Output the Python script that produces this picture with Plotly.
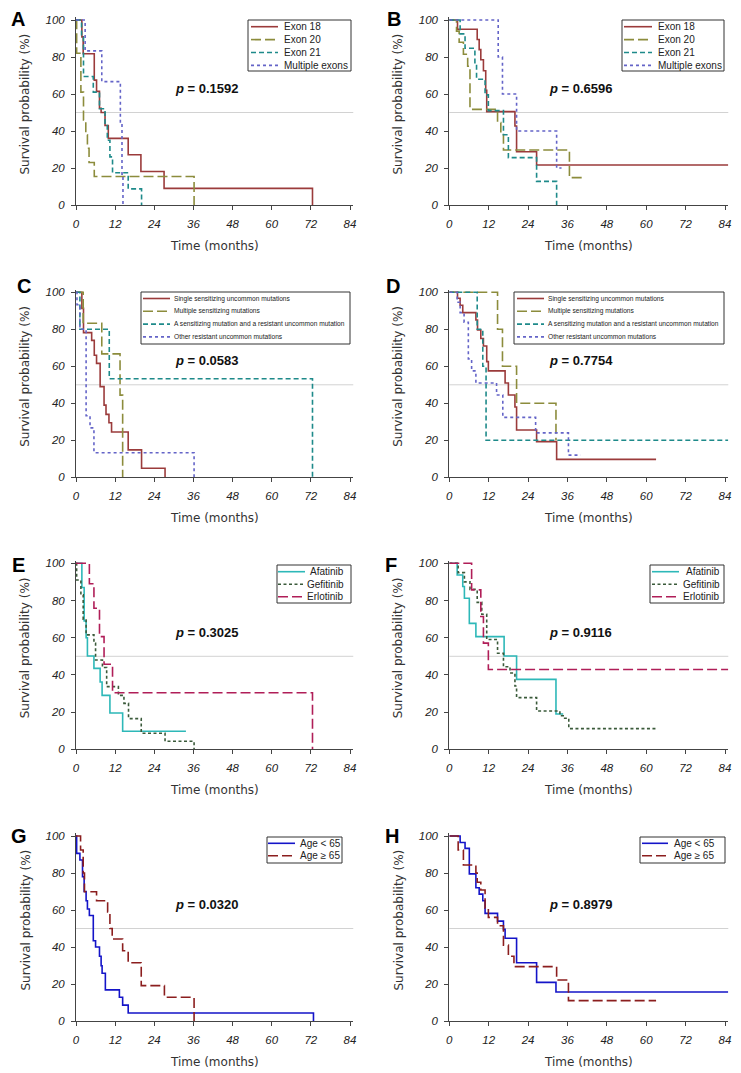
import plotly.graph_objects as go

# the page body has an 8px margin, so the figure is drawn 8px in from the corner
OFF = 8
W, H = 741 - OFF, 1073 - OFF

# ---- data (time in months, survival in %) ----
# A
a_ex18_t = [0, 1.8, 2.2, 5.6, 6.3, 7.2, 7.7, 8.9, 9.9, 16.0, 19.9, 27.0, 72.5]
a_ex18_s = [100, 90.9, 81.8, 67.5, 61.4, 52.3, 50.0, 43.0, 36.0, 27.2, 18.1, 9.0, 0]
a_ex20_t = [0, 0.2, 1.5, 2.3, 3.0, 3.5, 4.0, 5.6, 36.2]
a_ex20_s = [100, 82.0, 61.0, 46.0, 38.0, 30.7, 23.0, 15.4, 0]
a_ex21_t = [0, 1.7, 2.3, 5.3, 7.2, 8.9, 9.6, 10.4, 11.2, 16.0, 20.1]
a_ex21_s = [100, 92.0, 69.5, 61.0, 52.0, 43.5, 35.0, 26.0, 17.4, 8.7, 0]
a_multi_t = [0, 2.8, 7.9, 13.6, 14.1, 14.4]
a_multi_s = [100, 83.3, 66.7, 44.4, 16.7, 0]
# B
b_ex18_t = [0, 2.5, 8.5, 9.1, 9.6, 10.4, 11.1, 11.4, 20.0, 20.5, 26.6, 85]
b_ex18_s = [100, 95.0, 89.5, 84.0, 78.5, 72.6, 62.0, 50.5, 42.7, 28.8, 21.6, 21.6]
b_ex20_t = [0, 2.2, 3.0, 4.3, 5.6, 6.3, 14.7, 15.7, 16.5, 36.6, 40.8]
b_ex20_s = [100, 94.0, 88.0, 81.5, 75.0, 51.7, 44.5, 38.0, 29.7, 14.8, 14.8]
b_ex21_t = [0, 3.3, 4.8, 7.8, 8.3, 10.9, 11.9, 16.5, 18.0, 26.6, 32.7]
b_ex21_s = [100, 92.5, 84.7, 76.0, 68.0, 59.5, 51.0, 38.0, 25.6, 12.8, 0]
b_multi_t = [0, 14.9, 16.2, 20.5, 32.7, 34.2]
b_multi_s = [100, 80, 60, 40, 20, 20]
# C
c_single_t = [0, 1.8, 2.3, 4.8, 5.6, 6.3, 7.4, 8.6, 9.2, 10.1, 10.9, 16.0, 20.1, 27.3]
c_single_s = [100, 91.3, 78.2, 74.0, 66.0, 61.6, 49.0, 39.0, 34.0, 29.5, 24.5, 14.8, 4.9, 0]
c_multi_t = [0, 2.2, 7.9, 13.5, 14.3]
c_multi_s = [100, 83.3, 66.7, 44.4, 0]
c_sensres_t = [0, 1.2, 10.2, 72.5]
c_sensres_s = [100, 80, 53.3, 0]
c_other_t = [0, 0.3, 1.2, 3.1, 4.3, 5.5, 36.2]
c_other_s = [100, 93.3, 80.0, 33.3, 26.7, 13.3, 0]
# D
d_single_t = [0, 2.5, 3.3, 4.1, 8.1, 8.6, 9.6, 10.4, 11.4, 11.9, 17.0, 18.0, 20.0, 20.5, 26.6, 32.7, 63.0]
d_single_s = [100, 96.8, 93.0, 89.0, 85.0, 79.6, 75.0, 71.0, 62.5, 57.5, 51.0, 44.5, 38.0, 25.6, 19.3, 9.7, 9.7]
d_multi_t = [0, 14.7, 16.2, 20.5, 32.5]
d_multi_s = [100, 80, 60, 40, 20]
d_sensres_t = [0, 8.5, 10.2, 11.2, 85]
d_sensres_s = [100, 80, 60, 20, 20]
d_other_t = [0, 2.4, 3.3, 4.5, 5.8, 6.8, 8.1, 14.4, 16.3, 26.3, 36.3, 40.0]
d_other_s = [100, 94.6, 89.0, 83.8, 64.0, 57.5, 51.0, 44.5, 32.4, 24.0, 12.0, 12.0]
# E
e_afa_t = [0, 1.8, 2.5, 3.1, 3.5, 5.5, 7.4, 8.0, 10.4, 14.3, 33.7]
e_afa_s = [100, 87.0, 69.0, 60.0, 50.2, 43.5, 36.2, 29.0, 19.5, 9.7, 9.7]
e_gef_t = [0, 0.2, 1.5, 2.2, 3.1, 5.5, 6.0, 8.1, 9.4, 13.0, 14.7, 16.1, 20.0, 27.3, 36.2]
e_gef_s = [100, 91.0, 83.0, 70.0, 61.5, 57.0, 48.0, 44.0, 33.7, 29.0, 24.7, 16.5, 8.6, 4.3, 0]
e_erl_t = [0, 4.1, 5.5, 7.2, 8.6, 11.2, 72.5]
e_erl_s = [100, 89.0, 75.8, 60.6, 45.7, 30.4, 0]
# F
f_afa_t = [0, 2.4, 4.1, 4.6, 6.1, 8.1, 16.7, 20.5, 32.5, 34.7]
f_afa_s = [100, 93.7, 87.5, 81.2, 67.7, 60.6, 50.2, 37.6, 19.0, 19.0]
f_gef_t = [0, 2.7, 4.6, 6.3, 8.5, 9.9, 11.4, 14.7, 16.5, 18.5, 20.0, 20.5, 26.6, 33.7, 34.7, 36.4, 63.0]
f_gef_s = [100, 95.0, 90.0, 86.0, 79.0, 72.6, 59.0, 51.6, 44.4, 41.0, 34.0, 27.8, 20.6, 18.0, 16.7, 11.1, 11.1]
f_erl_t = [0, 6.8, 9.6, 10.4, 11.9, 85]
f_erl_s = [100, 85.7, 71.4, 57.1, 42.9, 42.9]
# G
g_young_t = [0, 0.2, 1.2, 2.0, 2.5, 3.1, 3.5, 4.1, 5.3, 6.0, 7.2, 7.7, 8.0, 9.0, 13.3, 14.3, 16.0, 72.8]
g_young_s = [100, 90.6, 87.0, 78.0, 70.0, 65.0, 60.5, 57.0, 43.4, 40.0, 35.0, 29.9, 25.8, 16.8, 12.8, 8.6, 4.3, 0]
g_old_t = [0, 1.4, 2.2, 2.6, 6.3, 9.7, 10.4, 11.1, 14.3, 16.0, 20.0, 27.1, 36.2]
g_old_s = [100, 92.4, 80.0, 69.9, 65.0, 59.0, 50.0, 44.3, 38.0, 31.5, 19.1, 12.8, 0]
# H
h_young_t = [0, 3.3, 4.8, 6.1, 8.1, 9.1, 10.2, 10.9, 14.7, 16.5, 17.0, 20.5, 26.6, 32.5, 85]
h_young_s = [100, 96.5, 93.3, 79.5, 72.0, 68.6, 65.0, 58.2, 54.0, 49.5, 44.7, 31.5, 20.9, 15.7, 15.7]
h_old_t = [0, 2.7, 4.3, 8.1, 8.5, 9.6, 10.9, 11.9, 14.7, 16.5, 18.0, 19.7, 32.7, 36.3, 63.0]
h_old_s = [100, 92.4, 84.3, 80.0, 75.0, 70.8, 61.0, 56.0, 51.5, 41.0, 35.0, 29.4, 22.2, 11.0, 11.0]

p_values = ["0.1592", "0.6596", "0.0583", "0.7754", "0.3025", "0.9116", "0.0320", "0.8979"]
letters = ["A", "B", "C", "D", "E", "F", "G", "H"]
x_ticks = [0, 12, 24, 36, 48, 60, 72, 84]
y_ticks = [0, 20, 40, 60, 80, 100]

exon_names = ["Exon 18", "Exon 20", "Exon 21", "Multiple exons"]
mut_names = ["Single sensitizing uncommon mutations", "Multiple sensitizing mutations",
             "A sensitizing mutation and a resistant uncommon mutation",
             "Other resistant uncommon mutations"]
drug_names = ["Afatinib", "Gefitinib", "Erlotinib"]
age_names = ["Age < 65", "Age \u2265 65"]

# styles
RED, OLIVE, TEAL, PURPLE = "#9B3B3B", "#8C8C3C", "#1E8A8A", "#6464C8"
AFA, GEF, ERL = "#2DB8B8", "#3A5A3A", "#B01E58"
YOUNG, OLD = "#1414C8", "#8B1E1E"
SOLID, LONG, MED, SHORT = "solid", "10px,4px", "5px,3px", "3px,3px"

exon_style = [(RED, SOLID), (OLIVE, LONG), (TEAL, MED), (PURPLE, SHORT)]
drug_style = [(AFA, SOLID), (GEF, "3px,2.5px"), (ERL, LONG)]
age_style = [(YOUNG, SOLID), (OLD, LONG)]

panels = [
    dict(curves=[(a_ex18_t, a_ex18_s), (a_ex20_t, a_ex20_s), (a_ex21_t, a_ex21_s), (a_multi_t, a_multi_s)],
         names=exon_names, style=exon_style),
    dict(curves=[(b_ex18_t, b_ex18_s), (b_ex20_t, b_ex20_s), (b_ex21_t, b_ex21_s), (b_multi_t, b_multi_s)],
         names=exon_names, style=exon_style),
    dict(curves=[(c_single_t, c_single_s), (c_multi_t, c_multi_s), (c_sensres_t, c_sensres_s), (c_other_t, c_other_s)],
         names=mut_names, style=exon_style),
    dict(curves=[(d_single_t, d_single_s), (d_multi_t, d_multi_s), (d_sensres_t, d_sensres_s), (d_other_t, d_other_s)],
         names=mut_names, style=exon_style),
    dict(curves=[(e_afa_t, e_afa_s), (e_gef_t, e_gef_s), (e_erl_t, e_erl_s)],
         names=drug_names, style=drug_style),
    dict(curves=[(f_afa_t, f_afa_s), (f_gef_t, f_gef_s), (f_erl_t, f_erl_s)],
         names=drug_names, style=drug_style),
    dict(curves=[(g_young_t, g_young_s), (g_old_t, g_old_s)], names=age_names, style=age_style),
    dict(curves=[(h_young_t, h_young_s), (h_old_t, h_old_s)], names=age_names, style=age_style),
]

# pixel geometry (screen px) of the plot areas: (x at 0, x at 84) per column, (y at 100, y at 0) per row
cols_px = [(76, 350), (449.3, 725)]
rows_px = [(20, 205), (292.3, 477.3), (563.3, 749.3), (836, 1021)]
XMAX, YMAX = 85, 101.5

# legend boxes (px): box, sample x-range, text x, first row y, row step, align
legend_geo = [
    ((248, 20, 351, 71), (251, 278), 282, 26.7, 12.9, "left"),
    ((622, 20, 724, 71), (624, 652), 656, 26.7, 12.9, "left"),
    ((141, 292, 350, 344), (143, 170), 172, 298.5, 12.8, "left"),
    ((514, 292, 724, 344), (517, 544), 546, 298.5, 12.8, "left"),
    ((277, 565, 351, 603), (278, 305), 346, 571.7, 12.5, "right"),
    ((650, 565, 724, 603), (652, 679), 722, 571.7, 12.5, "right"),
    ((267, 837, 342, 863), (268, 295), 298, 843.3, 12.4, "left"),
    ((640, 837, 725, 863), (642, 668), 672, 843.3, 12.4, "left"),
]
letter_pos = [(18, 19), (394, 19), (24, 286), (393, 286), (18, 565), (391, 565), (19, 836), (392, 836)]


def fx(x):
    return (x - OFF) / W


def fy(y):
    return 1 - (y - OFF) / H


fig = go.Figure()
shapes, annotations = [], []
tick_font = dict(family="Arial, Liberation Sans", size=11.5, color="#222", style="italic")
title_font = dict(family="DejaVu Sans, Verdana", size=12, color="#333")

for i, p in enumerate(panels):
    r, c = divmod(i, 2)
    x0, x84 = cols_px[c]
    y100, y0 = rows_px[r]
    xend = x0 + XMAX * (x84 - x0) / 84
    ytop = y0 - YMAX * (y0 - y100) / 100
    sfx = "" if i == 0 else str(i + 1)

    fig.update_layout({
        "xaxis" + sfx: dict(domain=[fx(x0), fx(xend)], range=[0, XMAX], anchor="y" + sfx,
                            tickvals=x_ticks, showline=True, linecolor="#444", linewidth=1,
                            ticks="outside", ticklen=4, tickcolor="#444", tickfont=tick_font,
                            ticklabelstandoff=4, showgrid=False, zeroline=False, fixedrange=True),
        "yaxis" + sfx: dict(domain=[fy(y0), fy(ytop)], range=[0, YMAX], anchor="x" + sfx,
                            tickvals=y_ticks, showline=True, linecolor="#444", linewidth=1,
                            ticks="outside", ticklen=4, tickcolor="#444", tickfont=tick_font,
                            ticklabelstandoff=4, showgrid=False, zeroline=False, fixedrange=True),
    })

    for (t, s), name, (col, dash) in zip(p["curves"], p["names"], p["style"]):
        fig.add_trace(go.Scatter(x=t, y=s, mode="lines", name=name, showlegend=False,
                                 line=dict(color=col, dash=dash, width=1.6, shape="hv"),
                                 xaxis="x" + sfx, yaxis="y" + sfx))

    # median reference line
    shapes.append(dict(type="line", xref="x" + sfx + " domain", x0=0, x1=1, yref="y" + sfx,
                       y0=50, y1=50, line=dict(color="#D2D2D2", width=1), layer="below"))

    # p value
    annotations.append(dict(x=29.7, y=63, xref="x" + sfx, yref="y" + sfx, xanchor="left",
                            yanchor="middle", showarrow=False,
                            text="<b><i>p</i> = " + p_values[i] + "</b>",
                            font=dict(family="Arial, Liberation Sans", size=13, color="#111")))

    # panel letter
    lx, ly = letter_pos[i]
    annotations.append(dict(x=fx(lx), y=fy(ly), xref="paper", yref="paper", showarrow=False,
                            xanchor="center", yanchor="middle", text="<b>" + letters[i] + "</b>",
                            font=dict(family="Arial, Liberation Sans", size=20, color="#000")))

    # axis titles
    annotations.append(dict(x=fx(25 if c == 0 else 398), y=fy((y100 + y0) / 2 - 8), xref="paper",
                            yref="paper", showarrow=False, textangle=-90, xanchor="center",
                            yanchor="middle", text="Survival probability (%)", font=title_font))
    annotations.append(dict(x=fx((x0 + x84) / 2 + 1), y=fy(y0 + 41), xref="paper", yref="paper",
                            showarrow=False, xanchor="center", yanchor="middle",
                            text="Time (months)", font=title_font))

    # legend box
    (bx0, by0, bx1, by1), (sx0, sx1), tx, ry, step, align = legend_geo[i]
    shapes.append(dict(type="rect", xref="paper", yref="paper", x0=fx(bx0), x1=fx(bx1),
                       y0=fy(by1), y1=fy(by0), line=dict(color="#333", width=1),
                       fillcolor="white", layer="above"))
    narrow = i in (2, 3)
    for k, (name, (col, dash)) in enumerate(zip(p["names"], p["style"])):
        yy = ry + k * step
        shapes.append(dict(type="line", xref="paper", yref="paper", x0=fx(sx0), x1=fx(sx1),
                           y0=fy(yy), y1=fy(yy), line=dict(color=col, dash=dash, width=1.6),
                           layer="above"))
        annotations.append(dict(x=fx(tx), y=fy(yy), xref="paper", yref="paper", showarrow=False,
                                xanchor=align, yanchor="middle", text=name,
                                font=dict(family="Arial, Liberation Sans",
                                          size=6.6 if narrow else 10, color="#222")))

fig.update_layout(
    width=W, height=H, template="none",
    margin=dict(l=0, r=0, t=0, b=0),
    paper_bgcolor="white", plot_bgcolor="white",
    showlegend=False,
    shapes=shapes, annotations=annotations,
)

fig.write_html("out.html")
